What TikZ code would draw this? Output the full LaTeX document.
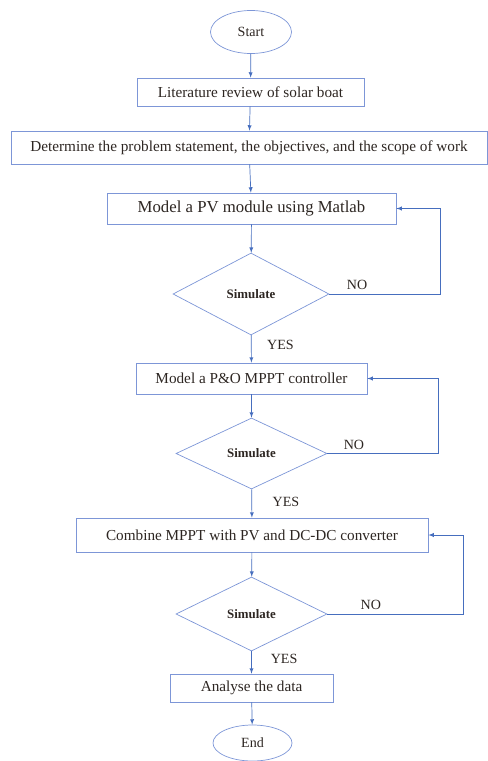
\documentclass[tikz,border=0pt]{standalone}
\usepackage{fontspec}
\setmainfont{Liberation Serif}
\usetikzlibrary{shapes.geometric}
\usetikzlibrary{arrows}
\definecolor{lineblue}{RGB}{70,110,190}
\definecolor{boxblue}{RGB}{125,150,215}
\definecolor{inkbrown}{RGB}{45,38,34}

\begin{document}
\begin{tikzpicture}[x=0.03cm, y=-0.03cm,
	font=\fontsize{13}{15}\selectfont, text=inkbrown,
	process/.style={draw=boxblue, line width=0.6pt, rectangle, inner sep=2pt},
	terminal/.style={draw=boxblue, line width=0.6pt, ellipse, inner sep=1pt, font=\fontsize{12}{14}\selectfont},
	decision/.style={draw=boxblue, line width=0.6pt, diamond, inner sep=0pt, font=\fontsize{11}{13}\selectfont\bfseries},
	answer/.style={font=\fontsize{12}{14}\selectfont},
	flow/.style={->, >=latex, draw=lineblue, line width=0.6pt}]
	\useasboundingbox (0,0) rectangle (488,761);
	% blocks
	\node [terminal, minimum width=2.43cm, minimum height=1.29cm] (start) at (251,32) {Start};
	\node [process, minimum width=6.81cm, minimum height=0.84cm] (lit) at (250.5,92) {Literature review of solar boat};
	\node [process, minimum width=14.28cm, minimum height=0.99cm] (det) at (249,147.5) {Determine the problem statement, the objectives, and the scope of work};
	\node [process, minimum width=8.67cm, minimum height=0.93cm, font=\fontsize{14.3}{16}\selectfont] (pv) at (251.5,208.5) {Model a PV module using Matlab};
	\node [decision, minimum width=4.68cm, minimum height=2.46cm] (sim1) at (251,294) {Simulate};
	\node [process, minimum width=6.93cm, minimum height=0.93cm] (po) at (251.5,378.5) {Model a P\&O MPPT controller};
	\node [decision, minimum width=4.53cm, minimum height=2.13cm] (sim2) at (251.5,453.5) {Simulate};
	\node [process, minimum width=10.56cm, minimum height=1.02cm] (comb) at (252,535) {Combine MPPT with PV and DC-DC converter};
	\node [decision, minimum width=4.53cm, minimum height=2.22cm] (sim3) at (251.5,614) {Simulate};
	\node [process, minimum width=4.89cm, minimum height=0.84cm] (ana) at (251.5,688) {Analyse the data};
	\node [terminal, minimum width=2.37cm, minimum height=1.08cm] (fin) at (252.5,743) {End};
	% straight arrows
	\draw [flow] (start) -- (lit);
	\draw [flow] (lit) -- (det);
	\draw [flow] (det) -- (pv);
	\draw [flow] (pv) -- (sim1);
	\draw [flow] (sim1) -- node (yes1) [answer, right=0.35cm, pos=0.35] {YES} (po);
	\draw [flow] (po) -- (sim2);
	\draw [flow] (sim2) -- node (yes2) [answer, right=0.5cm, pos=0.45] {YES} (comb);
	\draw [flow] (comb) -- (sim3);
	\draw [flow] (sim3) -- node (yes3) [answer, right=0.45cm, pos=0.35] {YES} (ana);
	\draw [flow] (ana) -- (fin);
	% loops back
	\draw [flow] (sim1.east) -- node (no1) [answer, above, pos=0.25] {NO} ++(111,0) |- (pv.east);
	\draw [flow] (sim2.east) -- node (no2) [answer, above, pos=0.24] {NO} ++(111,0) |- (po.east);
	\draw [flow] (sim3.east) -- node (no3) [answer, above, pos=0.32] {NO} ++(136,0) |- (comb.east);
\end{tikzpicture}
\end{document}
